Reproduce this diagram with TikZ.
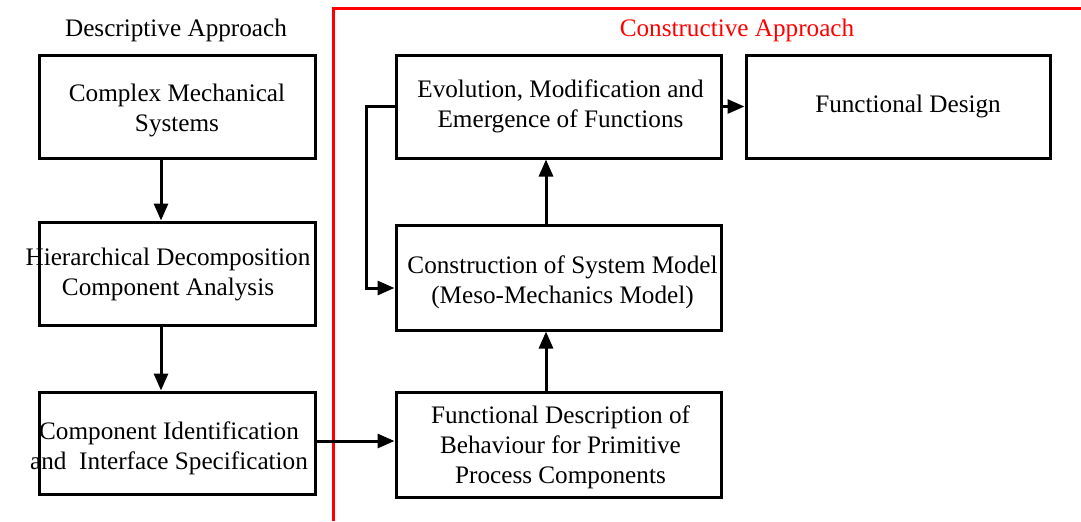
\documentclass[tikz,border=0pt]{standalone}
\usepackage{fontspec}
\setmainfont{Liberation Serif}
\usetikzlibrary{arrows.meta}

\begin{document}
\begin{tikzpicture}[x=0.5pt,y=-0.5pt]
	\tikzstyle{every node}+=[inner sep=0pt, font=\fontsize{12.6}{15}\selectfont]
	\tikzstyle{block}=[draw=black, line width=1.5pt]
	\tikzstyle{tag}=[align=center, draw=none]
	\tikzstyle{link}=[line width=1.5pt, -{Triangle[length=8.5pt,width=7pt]}]
	\useasboundingbox (0,0) rectangle (1081,521);
	% frame of the constructive side
	\draw [red, line width=1.5pt] (333,521) -- (333,8) -- (1081,8);
	\node (desc) at (176,30) {Descriptive Approach};
	\node [red] (cons) at (737,30) {Constructive Approach};
	% descriptive column
	\node [block, minimum width=138pt, minimum height=51.5pt,
		label={[tag, shift={(0,4)}]center:Complex Mechanical\\Systems}] (cms) at (177,106.5) {};
	\node [block, minimum width=138pt, minimum height=51.5pt,
		label={[tag, shift={(-9,1)}]center:Hierarchical Decomposition\\Component Analysis}] (hd) at (177,273.5) {};
	\node [block, minimum width=138pt, minimum height=51pt,
		label={[tag, shift={(-8,5)}]center:Component Identification\\and~ Interface Specification}] (cis) at (177,443) {};
	% constructive column
	\node [block, minimum width=162.5pt, minimum height=51.5pt,
		label={[tag, shift={(2,0)}]center:Evolution, Modification and\\Emergence of Functions}] (emf) at (558.5,106.5) {};
	\node [block, minimum width=152pt, minimum height=51.5pt,
		label={[tag, shift={(10,0)}]center:Functional Design}] (fd) at (898,106.5) {};
	\node [block, minimum width=162.5pt, minimum height=52.5pt,
		label={[tag, shift={(4,5)}]center:Construction of System Model\\(Meso-Mechanics Model)}] (csm) at (558.5,277.5) {};
	\node [block, minimum width=162.5pt, minimum height=52.5pt,
		label={[tag, shift={(2,3)}]center:Functional Description of\\Behaviour for Primitive\\Process Components}] (fdb) at (558.5,444.5) {};
	% connectors
	\draw [link] ([xshift=-8pt]cms.south) -- ([xshift=-8pt]hd.north);
	\draw [link] ([xshift=-8pt]hd.south) -- ([xshift=-8pt]cis.north);
	\draw [link] ([yshift=1pt]cis.east) -- ([yshift=1pt]cis.east -| fdb.west);
	\draw [link] ([xshift=-6.25pt]fdb.north) -- ([xshift=-6.25pt]csm.south);
	\draw [link] ([xshift=-6.25pt]csm.north) -- ([xshift=-6.25pt]emf.south);
	\draw [link] (emf.east) -- (emf.east -| fd.west);
	\draw [link] (emf.west) -- ++(-28,0) |- ([yshift=-5.25pt]csm.west);
\end{tikzpicture}
\end{document}
